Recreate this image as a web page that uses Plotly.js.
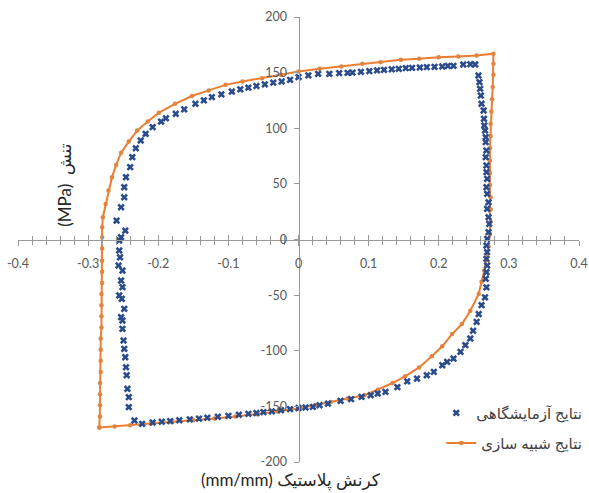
<!DOCTYPE html>
<html>
<head>
<meta charset="utf-8">
<script src="https://cdn.plot.ly/plotly-3.0.1.min.js"></script>
<style>
  html, body { margin: 0; padding: 0; background: #fff; }
  #chart { width: 589px; height: 493px; }
</style>
</head>
<body>
<div id="chart"></div>
<script>
// Simulated hysteresis loop (plastic strain, stress in MPa), traced as a closed path
const simStrain = [
  -0.284, -0.283, -0.283, -0.283, -0.283, -0.282, -0.282, -0.282, -0.282, -0.281,
  -0.281, -0.281, -0.281, -0.280, -0.280, -0.280, -0.280, -0.280, -0.280, -0.279,
  -0.275, -0.271, -0.266, -0.260, -0.253, -0.242, -0.230, -0.215, -0.199,
  -0.176, -0.152, -0.128, -0.104, -0.080, -0.052, -0.025, 0.000, 0.030, 0.061,
  0.091, 0.117, 0.146, 0.172, 0.200, 0.228, 0.254, 0.278,
  0.278, 0.278, 0.277, 0.276, 0.275, 0.274, 0.274, 0.273, 0.273, 0.273,
  0.273, 0.274, 0.274, 0.274, 0.273, 0.271, 0.268, 0.265, 0.261, 0.257,
  0.245, 0.233, 0.219, 0.205, 0.190, 0.172, 0.152, 0.134, 0.113, 0.094,
  0.070, 0.046, 0.023, 0.000, -0.030, -0.060, -0.090, -0.120, -0.150, -0.180,
  -0.210, -0.240, -0.262, -0.284
];
const simStress = [
  -169, -159, -149, -139, -129, -119, -109, -99, -89, -79,
  -69, -59, -49, -39, -29, -19, -8, 2, 11, 20,
  32, 44, 56, 67, 78, 88, 98, 106, 114,
  122, 129, 134, 139, 142, 145, 148, 151, 153.4, 155.5,
  157.9, 159.4, 161.5, 162.4, 163.9, 164.5, 165.4, 167,
  158, 148, 137, 126, 115, 104, 93, 82, 71, 60,
  49, 38, 27, 16, 5, -6, -17, -28, -38, -49,
  -64, -76, -85, -96, -105, -115, -123, -129, -135, -140,
  -143, -146, -149, -152, -154.5, -157, -159, -161, -162.5, -164,
  -165.5, -167, -168, -169
];

// Experimental (laboratory) measurements
const expStrain = [
  0.000, 0.014, 0.028, 0.044, 0.058, 0.070, 0.077, 0.089, 0.101, 0.112,
  0.122, 0.133, 0.143, 0.153, 0.162, 0.173, 0.183, 0.194, 0.205, 0.213,
  0.221, 0.235, 0.245, 0.252,
  0.2566, 0.258, 0.259, 0.260, 0.261, 0.264, 0.2645, 0.265, 0.266, 0.267,
  0.267, 0.268, 0.267, 0.268, 0.268, 0.269, 0.268, 0.269, 0.271, 0.269,
  0.271, 0.272, 0.271, 0.269, 0.268, 0.269, 0.268, 0.269, 0.268, 0.267,
  0.268, 0.266, 0.261, 0.257, 0.254, 0.249, 0.245, 0.238, 0.231, 0.221,
  0.212, 0.205, 0.193, 0.183, 0.169, 0.155, 0.141, 0.124, 0.113, 0.103,
  0.090, 0.075, 0.060, 0.042, 0.030, 0.0205, 0.010, 0.000, -0.012, -0.025,
  -0.038, -0.050, -0.060, -0.0715, -0.085, -0.100, -0.115, -0.130, -0.142, -0.155,
  -0.170, -0.183, -0.195, -0.208, -0.223, -0.234,
  -0.242, -0.242, -0.244, -0.245, -0.246, -0.247, -0.2485, -0.2495, -0.251, -0.251,
  -0.253, -0.2485, -0.252, -0.2556, -0.251, -0.253, -0.251, -0.2566, -0.2545, -0.2556,
  -0.2556, -0.253, -0.247, -0.2595, -0.253, -0.2485, -0.2485, -0.246, -0.240, -0.237,
  -0.232, -0.225, -0.218, -0.208, -0.196, -0.189, -0.175, -0.163, -0.147, -0.135,
  -0.1235, -0.110, -0.095, -0.083, -0.0715, -0.060, -0.048, -0.036, -0.024, -0.012
];
const expStress = [
  146, 147.5, 148.9, 148.9, 149.5, 149.8, 150, 150.7, 151.3, 152,
  152.5, 153, 153.4, 154, 154.3, 154.6, 154.9, 155.2, 155.5, 156,
  156.1, 157.3, 157.5, 157.3,
  147.4, 141.4, 135.5, 129.4, 122, 116, 108.5, 102.5, 98, 92,
  87.5, 80, 74, 66.5, 60.5, 54.5, 47, 41, 33.5, 27.6,
  20, 14, 6.6, 0.6, -5.4, -11.4, -17.4, -23.4, -29.4, -35.3,
  -43, -52, -59, -67, -74, -82, -89, -95, -101, -107,
  -110, -113, -119, -122, -125, -127.5, -132.7, -137, -138.5, -140,
  -141.5, -143.5, -145, -147.5, -149, -150.5, -151, -151.5, -152.5, -153.5,
  -154.5, -155.2, -156, -156.7, -157.5, -158.5, -159.3, -160.2, -161, -161.7,
  -162.5, -163.2, -163.8, -164.5, -165.7, -162.7,
  -150.7, -141.7, -134.2, -122, -114.8, -105.8, -98.3, -90.8, -80.3, -72.8,
  -69.8, -62.3, -53.3, -50.3, -42.8, -36.9, -27.9, -23.4, -16, -9.9,
  -0.9, 2, 8, 17, 29, 38, 47, 56, 65, 74,
  82, 89, 95, 101, 106, 109, 113, 117, 122, 125,
  128, 130.5, 133, 135, 136.5, 138, 139.5, 141, 142, 143.5
];

// Axis ticks and labels
const xTickVals = [-0.4, -0.3, -0.2, -0.1, 0, 0.1, 0.2, 0.3, 0.4];
const xTickText = ['-0.4', '-0.3', '-0.2', '-0.1', '0', '0.1', '0.2', '0.3', '0.4'];
const yTickVals = [-200, -150, -100, -50, 0, 50, 100, 150, 200];
const yTickText = ['-200', '-150', '-100', '-50', '0', '50', '100', '150', '200'];

const expName = 'نتایج آزمایشگاهی';
const simName = 'نتایج شبیه سازی';
const xTitle = '(mm/mm) کرنش پلاستیک';
const yTitle = '(MPa)  تنش';

const FONT = 'Lato, "DejaVu Sans", sans-serif';
const AXIS_GRAY = '#9a9a9a';
const LABEL_GRAY = '#595959';

const traces = [
  {
    x: simStrain, y: simStress,
    type: 'scatter', mode: 'lines+markers',
    name: simName, legend: 'legend2',
    line: { color: '#ED7D31', width: 2 },
    marker: { symbol: 'circle', size: 4.5, color: '#E0843F' },
    hoverinfo: 'skip'
  },
  {
    x: expStrain, y: expStress,
    type: 'scatter', mode: 'markers',
    name: expName, legend: 'legend',
    marker: { symbol: 'x', size: 6.5, color: '#2B4C8C', line: { width: 0 } },
    hoverinfo: 'skip'
  },
  {
    // carries the upper half of the crossing ticks on the strain axis
    x: [null], y: [null], xaxis: 'x2', yaxis: 'y',
    type: 'scatter', mode: 'markers', showlegend: false, hoverinfo: 'skip'
  }
];

const minorX = (side) => ({
  tickmode: 'linear', tick0: 0, dtick: 0.02,
  ticks: side, ticklen: 4, tickcolor: AXIS_GRAY, tickwidth: 1
});

const legendBase = {
  xref: 'container', yref: 'container',
  x: 0.997, xanchor: 'right', yanchor: 'middle',
  bgcolor: 'rgba(0,0,0,0)', borderwidth: 0,
  font: { family: FONT, size: 15, color: '#404040' }
};

const layout = {
  width: 589, height: 493,
  margin: { l: 18, r: 10, t: 17, b: 31, autoexpand: false },
  paper_bgcolor: '#ffffff', plot_bgcolor: '#ffffff',
  font: { family: FONT, color: LABEL_GRAY },
  showlegend: true,
  xaxis: {
    range: [-0.4, 0.4], anchor: 'free', position: 0.5,
    tickmode: 'array', tickvals: xTickVals, ticktext: xTickText,
    ticks: 'outside', ticklen: 5, tickwidth: 1, tickcolor: AXIS_GRAY,
    minor: minorX('outside'),
    showline: true, linecolor: AXIS_GRAY, linewidth: 1.3,
    showgrid: false, zeroline: false,
    ticklabelstandoff: 7, ticklabeloverflow: 'allow',
    tickfont: { family: FONT, size: 12.5, color: LABEL_GRAY },
    fixedrange: true
  },
  xaxis2: {
    range: [-0.4, 0.4], overlaying: 'x', anchor: 'free', position: 0.5,
    tickmode: 'array', tickvals: xTickVals,
    ticks: 'inside', ticklen: 5, tickwidth: 1, tickcolor: AXIS_GRAY,
    minor: minorX('inside'),
    showticklabels: false, showline: false, showgrid: false, zeroline: false,
    fixedrange: true
  },
  yaxis: {
    range: [-200, 200], anchor: 'free', position: 0.5,
    tickmode: 'array', tickvals: yTickVals, ticktext: yTickText,
    ticks: 'outside', ticklen: 5, tickwidth: 1, tickcolor: AXIS_GRAY,
    showline: true, linecolor: AXIS_GRAY, linewidth: 1.3,
    showgrid: false, zeroline: false,
    ticklabelstandoff: 4, ticklabeloverflow: 'allow',
    tickfont: { family: FONT, size: 12.5, color: LABEL_GRAY },
    fixedrange: true
  },
  legend: Object.assign({}, legendBase, { y: 0.162 }),
  legend2: Object.assign({}, legendBase, { y: 0.101 }),
  annotations: [
    {
      text: yTitle, xref: 'paper', yref: 'paper',
      x: 0.083, y: 0.622, xanchor: 'center', yanchor: 'middle',
      textangle: -90, showarrow: false,
      font: { family: FONT, size: 17, color: '#262626' }
    },
    {
      text: xTitle, xref: 'paper', yref: 'paper',
      x: 0.487, y: -0.04, xanchor: 'center', yanchor: 'middle',
      showarrow: false,
      font: { family: FONT, size: 17, color: '#262626' }
    }
  ]
};

Plotly.newPlot('chart', traces, layout, { staticPlot: true, displayModeBar: false });
</script>
</body>
</html>
